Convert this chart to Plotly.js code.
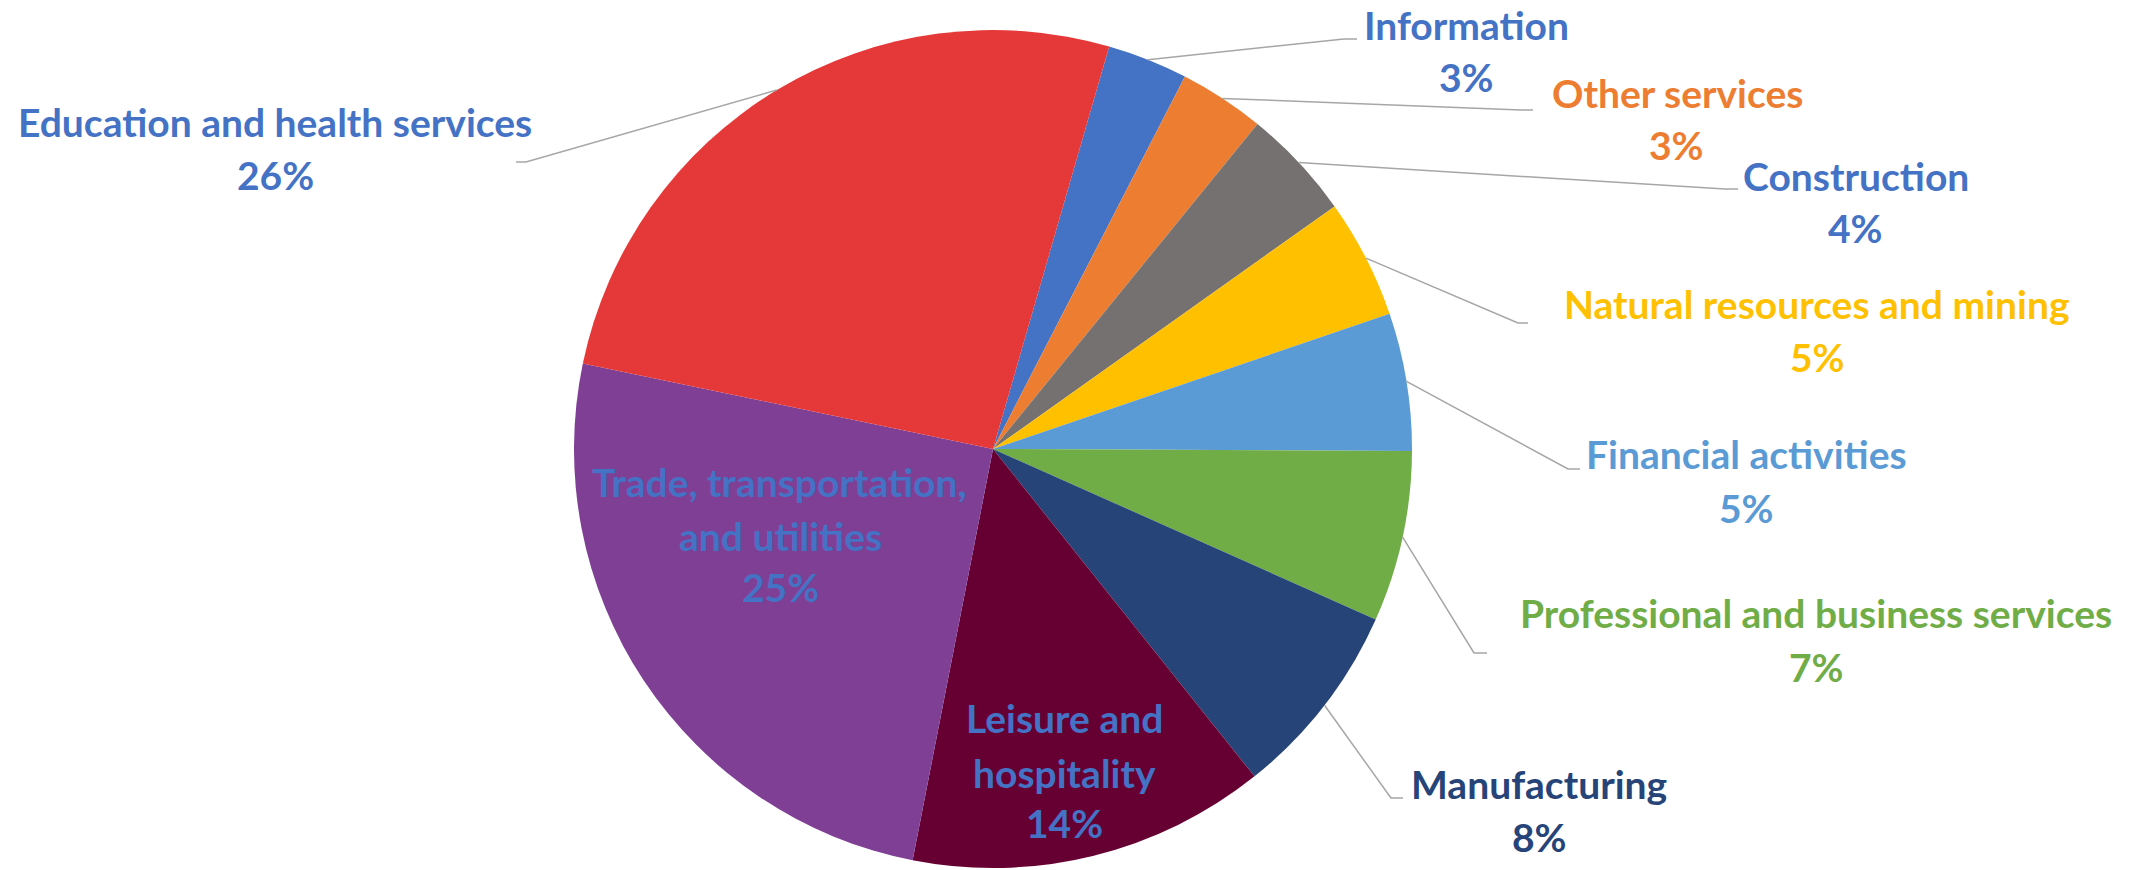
<!DOCTYPE html>
<html>
<head>
<meta charset="utf-8">
<script src="https://cdn.plot.ly/plotly-3.0.1.min.js"></script>
<style>html,body{margin:0;padding:0;background:#fff;}#chart{width:2148px;height:870px;}</style>
</head>
<body>
<div id="chart"></div>
<script>
// ---- data (clockwise from the first slice) ----
const sectors = ["Information", "Other services", "Construction", "Natural resources and mining",
  "Financial activities", "Professional and business services", "Manufacturing",
  "Leisure and hospitality", "Trade, transportation, and utilities", "Education and health services"];
const shares = [3.1, 3.3, 4.3, 4.6, 5.3, 6.6, 7.6, 13.8, 25.2, 26.2];
// label text as printed (line breaks only)
const labelLines = [
  ["Information"], ["Other services"], ["Construction"], ["Natural resources and mining"],
  ["Financial activities"], ["Professional and business services"], ["Manufacturing"],
  ["Leisure and", "hospitality"], ["Trade, transportation,", "and utilities"], ["Education and health services"]
];

// ---- style ----
const sliceColors = ["#4472C4", "#ED7D31", "#767171", "#FFC000", "#5B9BD5", "#70AD47", "#264478", "#660033", "#7F3F94", "#E53838"];
const textColors  = ["#4472C4", "#ED7D31", "#4472C4", "#FFC000", "#5B9BD5", "#70AD47", "#264478", "#4472C4", "#4472C4", "#4472C4"];
const W = 2148, H = 870;
const dom = {x: [574 / W, 1412 / W], y: [1 - 868 / H, 1 - 30 / H]};
const rotation = 16.1;
// label placement (pixel centers of each text line, then percent line), leader elbow + end
const place = [
  {lines: [[1466, 25]], pct: [1466, 77], elbow: [1344, 39], end: [1357, 39]},
  {lines: [[1677, 93]], pct: [1676, 145], elbow: [1521, 110], end: [1533, 110]},
  {lines: [[1856, 176]], pct: [1855, 228], elbow: [1725, 189], end: [1738, 189]},
  {lines: [[1817, 304]], pct: [1817, 357], elbow: [1518, 323], end: [1528, 323]},
  {lines: [[1746, 454]], pct: [1746, 508], elbow: [1568, 469], end: [1580, 469]},
  {lines: [[1816, 613]], pct: [1816, 667], elbow: [1474, 653], end: [1487, 653]},
  {lines: [[1539, 784]], pct: [1539, 837], elbow: [1391, 798], end: [1403, 798]},
  {lines: [[1064, 718], [1064, 773]], pct: [1064, 823]},
  {lines: [[779, 482], [780, 536]], pct: [780, 587]},
  {lines: [[275, 122]], pct: [275, 175], elbow: [526, 162], end: [516, 162]}
];
const fontSize = 39;
const fontFamily = "Lato, 'Open Sans', sans-serif";

const total = shares.reduce((a, b) => a + b, 0);
const cx = (dom.x[0] + dom.x[1]) / 2 * W;
const cy = (1 - (dom.y[0] + dom.y[1]) / 2) * H;
const r = Math.min((dom.x[1] - dom.x[0]) * W, (dom.y[1] - dom.y[0]) * H) / 2;

const annotations = [];
const shapes = [];
const px = x => x / W, py = y => 1 - y / H;
let cum = 0;
shares.forEach((v, i) => {
  const mid = (rotation + 360 * (cum + v / 2) / total) * Math.PI / 180;
  cum += v;
  const p = place[i];
  const font = {family: fontFamily, size: fontSize, color: textColors[i], weight: "bold"};
  labelLines[i].forEach((t, j) => {
    annotations.push({text: t, x: px(p.lines[j][0]), y: py(p.lines[j][1]), xref: "paper", yref: "paper",
      xanchor: "center", yanchor: "middle", showarrow: false, font: font});
  });
  annotations.push({text: Math.round(v / total * 100) + "%", x: px(p.pct[0]), y: py(p.pct[1]),
    xref: "paper", yref: "paper", xanchor: "center", yanchor: "middle", showarrow: false, font: font});
  if (p.elbow) {
    const sx = cx + r * Math.sin(mid), sy = cy - r * Math.cos(mid);
    shapes.push({type: "path", xref: "paper", yref: "paper",
      path: `M ${px(sx)},${py(sy)} L ${px(p.elbow[0])},${py(p.elbow[1])} L ${px(p.end[0])},${py(p.end[1])}`,
      line: {color: "#A6A6A6", width: 1.5}});
  }
});

const trace = {
  type: "pie", labels: sectors, values: shares, sort: false, direction: "clockwise",
  rotation: rotation, textinfo: "none", hoverinfo: "label+percent",
  marker: {colors: sliceColors, line: {width: 0}},
  domain: dom, showlegend: false
};

Plotly.newPlot("chart", [trace], {
  width: W, height: H, margin: {l: 0, r: 0, t: 0, b: 0},
  paper_bgcolor: "#fff", plot_bgcolor: "#fff", showlegend: false,
  annotations: annotations, shapes: shapes
}, {staticPlot: true});
</script>
</body>
</html>
